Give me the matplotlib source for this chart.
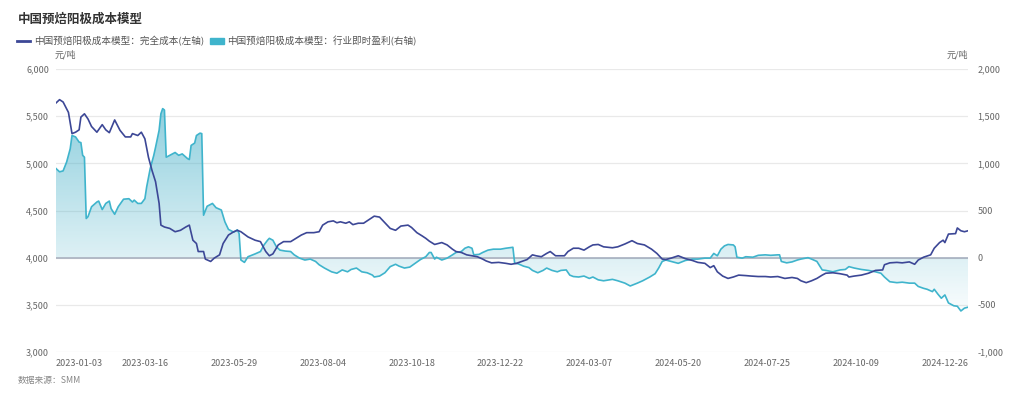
# -*- coding: utf-8 -*-
import numpy as np
import matplotlib
matplotlib.use('Agg')
import matplotlib.pyplot as plt
from matplotlib.lines import Line2D
from matplotlib.patches import Patch
from matplotlib.colors import LinearSegmentedColormap

plt.rcParams['font.family'] = ['Noto Sans CJK SC', 'DejaVu Sans']

# trading-day index (category axis) and values
cost_day = [0, 2, 4, 7, 9, 11, 13, 14, 16, 18, 20, 23, 26, 28, 30, 33, 36, 39, 42, 43, 46, 48, 50, 52, 54, 56, 58, 59,
            61, 64, 67, 70, 73, 75, 77, 79, 80, 83, 84, 87, 89, 92, 94, 97, 100, 102, 104, 108, 112, 115, 118, 120,
            122, 125, 128, 132, 135, 138, 141, 145, 148, 150, 153, 156, 158, 160, 163, 165, 167, 170, 173, 175, 177,
            179, 182, 185, 188, 191, 194, 198, 200, 203, 206, 208, 210, 213, 217, 220, 223, 225, 228, 231, 234, 237,
            240, 242, 245, 249, 253, 256, 259, 262, 265, 268, 270, 273, 276, 278, 281, 283, 286, 288, 291, 294, 297,
            300, 302, 305, 308, 313, 316, 320, 324, 327, 331, 335, 338, 341, 343, 346, 350, 354, 358, 361, 365, 368,
            370, 372, 375, 378, 381, 384, 388, 391, 395, 399, 402, 406, 410, 414, 417, 419, 422, 425, 428, 431, 433,
            437, 441, 445, 446, 449, 453, 457, 461, 465, 466, 469, 473, 476, 480, 483, 485, 488, 492, 494, 497, 499,
            500, 502, 506, 507, 509, 511, 513]
cost_val = [5640, 5675, 5650, 5540, 5315, 5330, 5355, 5490, 5525, 5470, 5390, 5330, 5410, 5355, 5325, 5460, 5350, 5280,
            5280, 5315, 5295, 5330, 5260, 5065, 4925, 4805, 4575, 4345, 4325, 4310, 4275, 4290, 4325, 4345, 4185, 4150,
            4065, 4065, 3985, 3960, 3995, 4030, 4150, 4240, 4275, 4290, 4275, 4220, 4185, 4170, 4065, 4020, 4040, 4135,
            4170, 4170, 4205, 4240, 4265, 4265, 4275, 4345, 4380, 4390, 4370, 4380, 4365, 4380, 4350, 4365, 4365, 4390,
            4415, 4440, 4430, 4370, 4310, 4290, 4335, 4345, 4320, 4265, 4230, 4205, 4175, 4140, 4160, 4135, 4090, 4065,
            4055, 4030, 4020, 4010, 3985, 3965, 3945, 3950, 3940, 3930, 3940, 3960, 3980, 4030, 4020, 4010, 4045, 4065,
            4020, 4020, 4020, 4065, 4100, 4100, 4080, 4115, 4135, 4140, 4115, 4105, 4115, 4145, 4180, 4150, 4135, 4090,
            4045, 3985, 3980, 3995, 4020, 3990, 3970, 3950, 3940, 3895, 3915, 3850, 3805, 3780, 3795, 3815, 3810, 3805,
            3800, 3800, 3795, 3800, 3780, 3790, 3780, 3755, 3735, 3755, 3780, 3815, 3835, 3840, 3830, 3815, 3795, 3805,
            3815, 3835, 3865, 3870, 3925, 3945, 3950, 3945, 3955, 3930, 3975, 4005, 4030, 4100, 4160, 4185, 4160, 4250,
            4255, 4315, 4285, 4275, 4285]

profit_day = [0, 2, 4, 6, 8, 9, 11, 13, 14, 15, 16, 17, 18, 20, 23, 24, 26, 28, 30, 31, 33, 35, 38, 41, 43, 44, 46, 48,
              50, 51, 53, 55, 56, 58, 59, 60, 61, 62, 64, 67, 69, 71, 74, 75, 76, 78, 79, 81, 82, 83, 85, 88, 90, 93,
              95, 97, 100, 102, 103, 104, 106, 108, 112, 115, 117, 119, 120, 122, 124, 126, 129, 132, 134, 137, 140,
              143, 146, 148, 151, 155, 158, 161, 164, 166, 169, 172, 175, 178, 179, 182, 185, 188, 191, 193, 196, 199,
              202, 205, 208, 210, 211, 213, 214, 217, 220, 223, 225, 228, 230, 232, 234, 235, 238, 240, 243, 246, 250,
              253, 257, 258, 260, 263, 266, 268, 271, 274, 276, 279, 282, 284, 287, 289, 291, 294, 297, 300, 302, 305,
              308, 313, 316, 320, 323, 327, 330, 334, 337, 339, 341, 343, 346, 350, 354, 358, 361, 365, 368, 370, 372,
              374, 376, 378, 381, 382, 383, 386, 388, 392, 395, 399, 402, 406, 407, 408, 411, 414, 417, 419, 423, 425,
              428, 431, 433, 437, 441, 444, 446, 449, 453, 457, 461, 464, 466, 469, 473, 476, 480, 483, 485, 488, 490,
              493, 494, 496, 498, 500, 502, 505, 507, 509, 511, 513]
profit_val = [945, 910, 920, 1015, 1155, 1295, 1280, 1225, 1220, 1085, 1065, 415, 435, 540, 590, 600, 510, 575, 600,
              520, 460, 540, 620, 625, 590, 610, 575, 575, 625, 750, 945, 1085, 1170, 1350, 1525, 1580, 1565, 1065,
              1085, 1115, 1085, 1100, 1050, 1040, 1190, 1215, 1295, 1320, 1315, 450, 545, 575, 530, 505, 380, 300, 270,
              295, 255, -25, -50, 10, 40, 65, 135, 185, 205, 185, 115, 80, 70, 65, 30, -5, -25, -15, -40, -75, -110,
              -150, -165, -130, -150, -125, -110, -150, -160, -185, -205, -195, -160, -95, -70, -90, -110, -100, -60,
              -20, 10, 55, 55, -15, 5, -25, -5, 30, 55, 65, 100, 115, 100, 30, 35, 55, 80, 90, 90, 100, 110, -60, -65,
              -90, -105, -135, -160, -135, -110, -135, -150, -135, -130, -185, -200, -205, -195, -220, -205, -235, -245,
              -230, -245, -270, -300, -270, -245, -205, -170, -110, -40, -25, -40, -60, -30, -15, -15, -5, -5, 45, 20,
              90, 125, 140, 135, 115, 5, -5, 10, 5, 25, 30, 25, 30, 30, -40, -55, -45, -25, -15, 0, -15, -40, -130,
              -135, -150, -130, -125, -95, -110, -125, -135, -150, -165, -205, -255, -265, -260, -270, -270, -305, -325,
              -335, -360, -335, -385, -430, -395, -480, -510, -515, -565, -535, -525]

tick_day = [0, 50, 100, 150, 200, 250, 300, 350, 400, 450, 500]
tick_label = ['2023-01-03', '2023-03-16', '2023-05-29', '2023-08-04', '2023-10-18', '2023-12-22',
              '2024-03-07', '2024-05-20', '2024-07-25', '2024-10-09', '2024-12-26']

cost_name = '中国预焙阳极成本模型：完全成本(左轴)'
profit_name = '中国预焙阳极成本模型：行业即时盈利(右轴)'

dark = '#3c4796'
cyan = '#3fb4cc'

fig = plt.figure(figsize=(10.24, 3.99), dpi=100)
ax = fig.add_axes([56 / 1024, 47 / 399, 912 / 1024, 283 / 399])
ax2 = ax.twinx()

# right axis below, left axis (dark line) on top
ax.set_zorder(ax2.get_zorder() + 1)
ax.patch.set_visible(False)

ax2.set_ylim(-1000, 2000)
ax2.set_yticks([-1000, -500, 0, 500, 1000, 1500, 2000])
ax2.grid(axis='y', color='#e9e9e9', lw=0.9)
ax2.axhline(0, color='#a3abbb', lw=1.1, zorder=3)

poly = ax2.fill_between(profit_day, profit_val, 0, color='none', lw=0)
cmap = LinearSegmentedColormap.from_list('g', [(0.25, 0.68, 0.78, 0.03), (0.25, 0.68, 0.78, 0.58)])
grad = np.linspace(0, 1, 256).reshape(-1, 1)
im = ax2.imshow(grad, extent=[0, 513, min(profit_val), max(profit_val)], origin='lower',
                aspect='auto', cmap=cmap, zorder=2)
im.set_clip_path(poly.get_paths()[0], transform=ax2.transData)
ax2.plot(profit_day, profit_val, color=cyan, lw=1.2, zorder=4)

ax.plot(cost_day, cost_val, color=dark, lw=1.2)
ax.set_ylim(3000, 6000)
ax.set_yticks([3000, 3500, 4000, 4500, 5000, 5500, 6000])
ax.set_xlim(0, 513)
ax2.set_xlim(0, 513)
ax.set_xticks(tick_day, tick_label)
ax.get_xticklabels()[0].set_ha('left')

fmt = matplotlib.ticker.FuncFormatter(lambda v, p: '{:,.0f}'.format(v))
ax.yaxis.set_major_formatter(fmt)
ax2.yaxis.set_major_formatter(fmt)

for a in (ax, ax2):
    for s in a.spines.values():
        s.set_visible(False)
    a.tick_params(length=0, labelsize=6.5, labelcolor='#666666')
ax.tick_params(axis='x', pad=5)
ax.tick_params(axis='y', pad=5)
ax2.tick_params(axis='y', pad=7)

fig.text(18 / 1024, 1 - 19 / 399, '中国预焙阳极成本模型', fontsize=9, fontweight='bold',
         color='#333333', va='center', ha='left')
handles = [Line2D([0], [0], color=dark, lw=2), Patch(facecolor=cyan, edgecolor=cyan)]
fig.legend(handles, [cost_name, profit_name], loc='center left', bbox_to_anchor=(17 / 1024, 1 - 41 / 399),
           ncol=2, frameon=False, fontsize=6.9, handlelength=1.4, handleheight=0.5, handletextpad=0.4,
           columnspacing=0.6, labelcolor='#555555', borderaxespad=0, borderpad=0)
fig.text(55 / 1024, 1 - 55 / 399, '元/吨', fontsize=6.5, color='#666666', va='center', ha='left')
fig.text(968 / 1024, 1 - 55 / 399, '元/吨', fontsize=6.5, color='#666666', va='center', ha='right')
fig.text(18 / 1024, 1 - 381 / 399, '数据来源：SMM', fontsize=6.3, color='#888888', va='center', ha='left')

plt.savefig('out.png', dpi=100)
